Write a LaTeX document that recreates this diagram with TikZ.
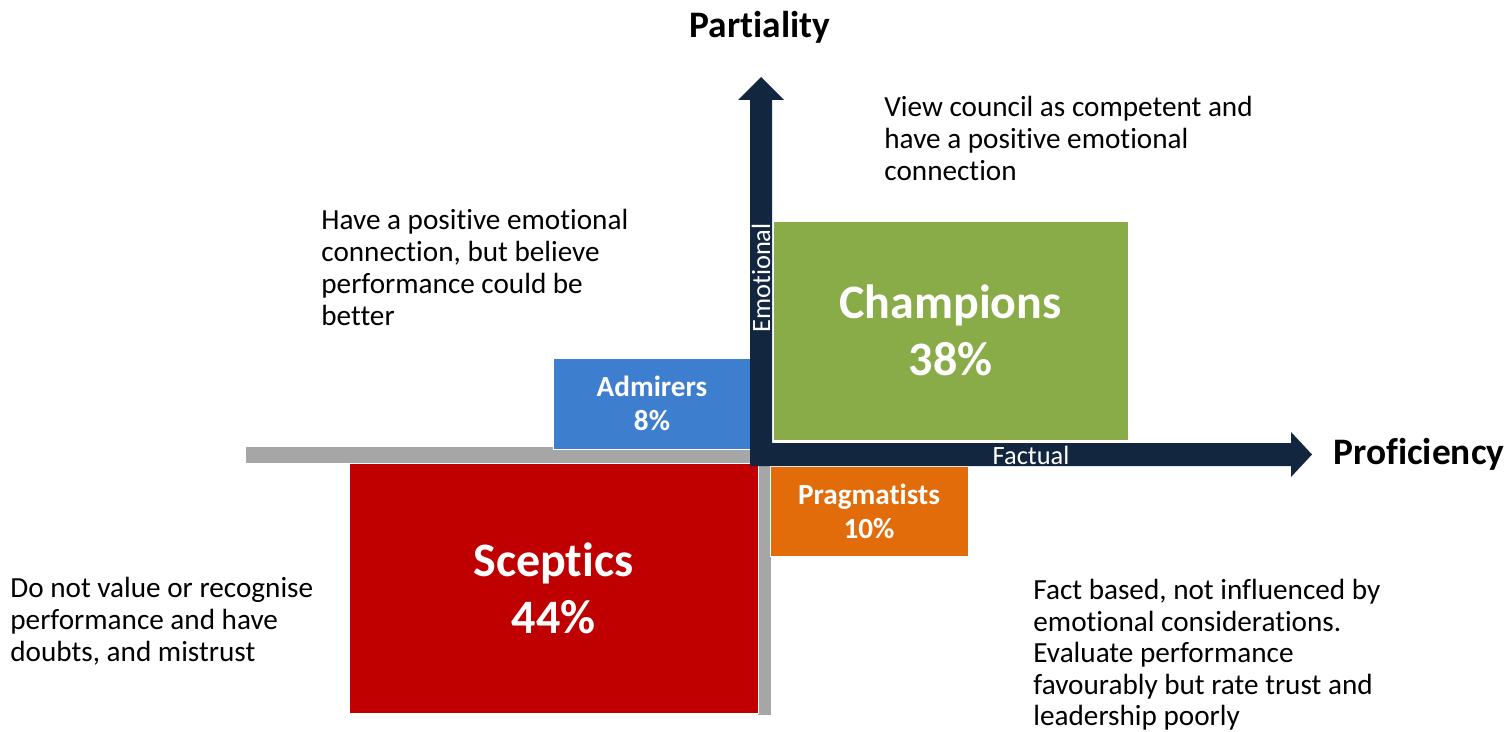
\documentclass[tikz,border=0pt]{standalone}
\usepackage{fontspec}
\setmainfont{Carlito}[Ligatures=NoCommon]
\definecolor{navy}{RGB}{19,38,64}
\definecolor{champ}{RGB}{138,172,72}
\definecolor{admir}{RGB}{61,126,206}
\definecolor{scept}{RGB}{192,0,0}
\definecolor{pragm}{RGB}{227,108,10}
\definecolor{bar}{RGB}{166,166,166}
\tikzset{
  quad/.style={draw=white, line width=0.4pt, text=white, align=center, inner sep=0pt, font=\bfseries},
  bigq/.style={quad, font=\fontsize{24}{28.5}\selectfont\bfseries},
  smallq/.style={quad, font=\fontsize{14.6}{17}\selectfont\bfseries},
  desc/.style={align=left, anchor=north west, inner sep=0pt, font=\fontsize{14.6}{16}\selectfont},
  axislabel/.style={font=\fontsize{18.7}{20}\selectfont\bfseries, inner sep=0pt},
  axistext/.style={text=white, font=\fontsize{13.2}{15}\selectfont, inner sep=0pt}
}
\begin{document}
\begin{tikzpicture}[x=0.5pt,y=-0.5pt]
\useasboundingbox (0,0) rectangle (1508,732);
% gray bars
\fill[bar] (246,447) rectangle (750,463);
\fill[bar] (758,463) rectangle (771,715);
% quadrant boxes
\node[bigq, fill=champ, minimum width=177.5pt, minimum height=109.5pt] (champions) at (950.5,330.5) {Champions\\38\%};
\node[bigq, fill=scept, minimum width=204.5pt, minimum height=125pt] (sceptics) at (553.5,588) {Sceptics\\44\%};
\node[smallq, fill=admir, minimum width=99pt, minimum height=45.5pt] (admirers) at (652,403.5) {Admirers\\8\%};
\node[smallq, fill=pragm, minimum width=99pt, minimum height=45pt] (pragmatists) at (869,511) {Pragmatists\\10\%};
% axes
\fill[navy] (750,466) -- (750,100) -- (738,100) -- (761,77) -- (784,100) -- (772,100) -- (772,443)
  -- (1291,443) -- (1291,432) -- (1312,454.5) -- (1291,477) -- (1291,466) -- cycle;
\coordinate (origin) at (761,454.5);
\node[axistext, rotate=90] (emotional) at (761,278) {Emotional};
\node[axistext] (factual) at (1031,455) {Factual};
\node[axislabel] (partiality) at (760,27) {Partiality};
\node[axislabel, anchor=west] (proficiency) at (1333,454) {Proficiency};
% descriptions
\node[desc] (dchamp) at (884,96) {View council as competent and\\have a positive emotional\\connection};
\node[desc] (dadmir) at (321,209) {Have a positive emotional\\connection, but believe\\performance could be\\better};
\node[desc] (dscept) at (10,577) {Do not value or recognise\\performance and have\\doubts, and mistrust};
\node[desc, font=\fontsize{14.6}{15.75}\selectfont] (dpragm) at (1033,579) {Fact based, not influenced by\\emotional considerations.\\Evaluate performance\\favourably but rate trust and\\leadership poorly};
\end{tikzpicture}
\end{document}
